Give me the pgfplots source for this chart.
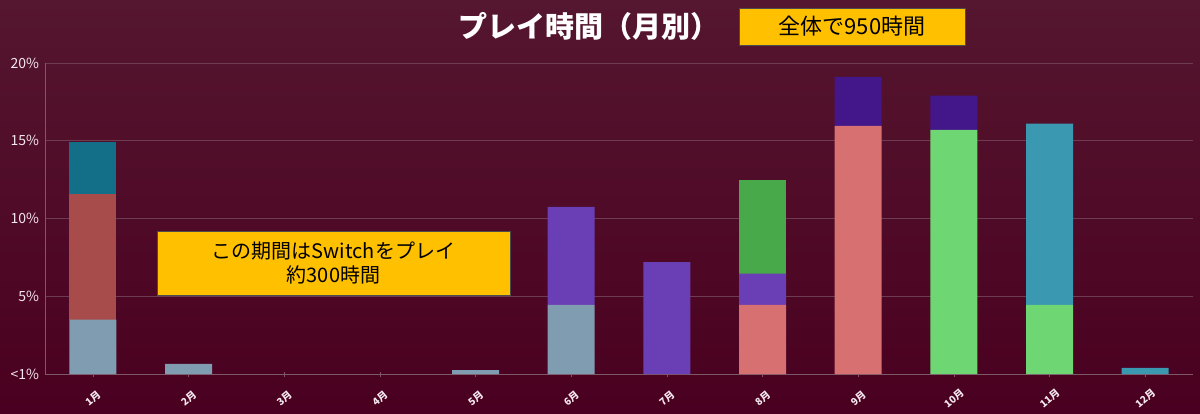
\documentclass[border=0pt]{standalone}
\usepackage{pgfplots}
\pgfplotsset{compat=1.18}
\usepackage{pgfplotstable}
\usepackage{fontspec}
\setmainfont{Noto Sans CJK JP}
\newfontfamily\cjk{Noto Sans CJK JP}

\definecolor{bgtop}{HTML}{55162F}
\definecolor{bgbot}{HTML}{4A0020}
\definecolor{gridc}{HTML}{6E3C52}
\definecolor{axc}{HTML}{7E5868}
\definecolor{labc}{HTML}{F4E8EE}
\definecolor{greyblue}{HTML}{7F9CB0}
\definecolor{salmon}{HTML}{D77070}
\definecolor{lgreen}{HTML}{6ED672}
\definecolor{redb}{HTML}{A84B4B}
\definecolor{purp}{HTML}{6A3EB4}
\definecolor{greenb}{HTML}{47A94A}
\definecolor{tealdk}{HTML}{136E88}
\definecolor{indigo}{HTML}{43168A}
\definecolor{tealbl}{HTML}{3A98B0}
\definecolor{boxy}{HTML}{FFC000}

% share of play time per month (%), one column per colour
\pgfplotstableread{
x  gb   sa    lg    rd   pu   gr   td   in   tb
0  3.5  0     0     8.1  0    0    3.3  0    0
1  0.65 0     0     0    0    0    0    0    0
2  0    0     0     0    0    0    0    0    0
3  0    0     0     0    0    0    0    0    0
4  0.25 0     0     0    0    0    0    0    0
5  4.45 0     0     0    6.3  0    0    0    0
6  0    0     0     0    7.2  0    0    0    0
7  0    4.45  0     0    2.0  6.05 0    0    0
8  0    15.95 0     0    0    0    0    3.15 0
9  0    0     15.7  0    0    0    0    2.2  0
10 0    0     4.45  0    0    0    0    0    11.65
11 0    0     0     0    0    0    0    0    0.4
}\monthly

\begin{document}
\begin{tikzpicture}[x=1bp,y=1bp]
\shade[top color=bgtop, bottom color=bgbot] (0,0) rectangle (1200,413);
\begin{axis}[
    at={(45bp,39bp)}, anchor=south west,
    scale only axis,
    width=1148bp, height=311bp,
    ybar stacked,
    bar width=47bp,
    xmin=-0.5, xmax=11.5,
    ymin=0, ymax=20,
    axis x line=bottom, axis y line=left,
    axis line style={axc, -},
    xtick={0,...,11},
    xticklabels={1月,2月,3月,4月,5月,6月,7月,8月,9月,10月,11月,12月},
    ytick={0,5,10,15,20},
    yticklabels={{<1\%},{5\%},{10\%},{15\%},{20\%}},
    ymajorgrids,
    grid style={gridc, line width=0.8pt},
    major tick length=5bp,
    xtick style={axc},
    ytick style={draw=none},
    xticklabel style={font=\fontsize{10bp}{11bp}\selectfont\bfseries, text=labc,
        rotate=40, anchor=center, xshift=-14bp, yshift=-17bp},
    yticklabel style={font=\fontsize{14bp}{15bp}\selectfont, text=labc},
    every axis plot/.append style={draw=none},
]
\addplot[fill=greyblue] table[x=x,y=gb]{\monthly};
\addplot[fill=salmon] table[x=x,y=sa]{\monthly};
\addplot[fill=lgreen] table[x=x,y=lg]{\monthly};
\addplot[fill=redb] table[x=x,y=rd]{\monthly};
\addplot[fill=purp] table[x=x,y=pu]{\monthly};
\addplot[fill=greenb] table[x=x,y=gr]{\monthly};
\addplot[fill=tealdk] table[x=x,y=td]{\monthly};
\addplot[fill=indigo] table[x=x,y=in]{\monthly};
\addplot[fill=tealbl] table[x=x,y=tb]{\monthly};
\end{axis}
\node[text=white, font=\fontsize{29bp}{32bp}\selectfont\bfseries] at (589,387) {プレイ時間（月別）};
\draw[fill=boxy, draw=black!70, line width=0.8pt] (739,368) rectangle (965,405);
\node[font=\fontsize{22bp}{24bp}\selectfont] at (852,386.5) {全体で950時間};
\draw[fill=boxy, draw=black!70, line width=0.8pt] (157,118) rectangle (510,182);
\node[font=\fontsize{20bp}{24bp}\selectfont, align=center] at (333.5,150) {この期間はSwitchをプレイ\\約300時間};
\pgfresetboundingbox
\path[use as bounding box] (0,0) rectangle (1200,413);
\end{tikzpicture}
\end{document}
